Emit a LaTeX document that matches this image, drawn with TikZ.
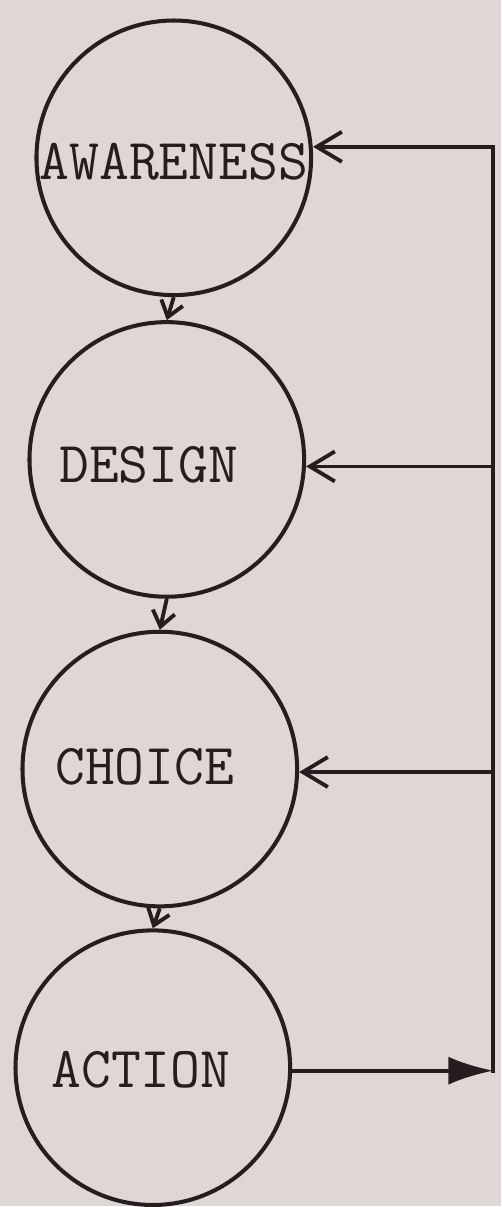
\documentclass[tikz,border=0pt]{standalone}
\usepackage{tikz}
\usepackage{xcolor}
\usetikzlibrary{arrows.meta}
\definecolor{paper}{RGB}{222,215,213}
\definecolor{ink}{RGB}{38,30,30}
\tikzset{
  stage/.style={circle,draw=ink,line width=2.3pt,minimum size=5.5cm,inner sep=0pt},
  word/.style={font=\ttfamily\fontsize{33}{36}\selectfont,text=ink,inner sep=0pt},
  flow/.style={draw=ink,line width=2.2pt,-{Straight Barb[length=0.3cm,width=0.45cm]}},
  back/.style={draw=ink,line width=2.2pt,-{Straight Barb[length=0.5cm,width=0.6cm]}},
  feed/.style={draw=ink,line width=2.2pt,-{Latex[length=0.9cm,width=0.56cm]}}
}

\begin{document}
\begin{tikzpicture}[x=0.02cm,y=-0.02cm]
  \fill[paper] (0,0) rectangle (502,1207);
  \node[stage] (aw) at (174,158) {};
  \node[stage] (de) at (167,460) {};
  \node[stage] (ch) at (160,770) {};
  \node[stage] (ac) at (153,1069) {};
  \node[word] (awt) at (174,162) {AWARENESS};
  \node[word] (det) at (149,465) {DESIGN};
  \node[word] (cht) at (145,768) {CHOICE};
  \node[word] (act) at (141,1071) {ACTION};
  \draw[flow] (aw.south) -- (de.north);
  \draw[flow] (de.south) -- (ch.north);
  \draw[flow] (ch.south) -- (ac.north);
  \coordinate (f1) at (494,147);
  \coordinate (f2) at (494,467);
  \coordinate (f3) at (494,773);
  \coordinate (f4) at (494,1072);
  \draw[feed] (ac.east |- f4) -- (f4);
  \draw[ink,line width=2.2pt,line cap=rect] (f4) -- (f1);
  \draw[back] (f1) -- (f1 -| aw.east);
  \draw[back] (f2) -- (f2 -| de.east);
  \draw[back] (f3) -- (f3 -| ch.east);
\end{tikzpicture}
\end{document}
